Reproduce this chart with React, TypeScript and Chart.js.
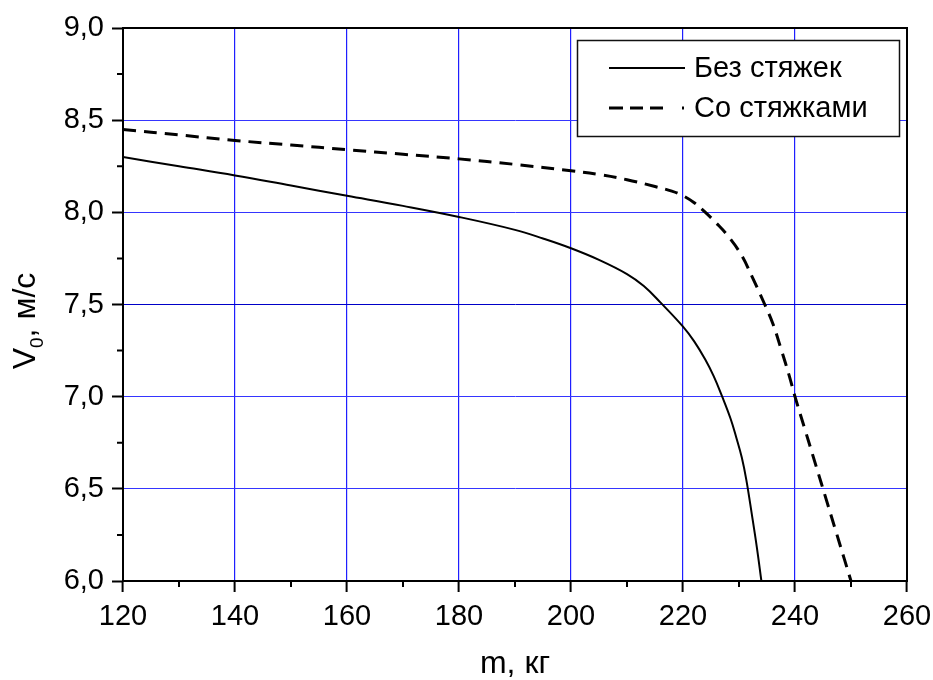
import { useEffect, useRef } from "react";
import { Chart, registerables } from "chart.js";

Chart.register(...registerables);

const massSolid = [120, 130, 140, 150, 160, 170, 180, 190, 195, 200, 205, 210, 213, 216, 220, 222, 224, 225.5, 227, 228.5, 229.5, 230.5, 231.3, 232.3, 233.2, 234];
const speedSolid = [8.3, 8.25, 8.2, 8.145, 8.09, 8.035, 7.975, 7.905, 7.858, 7.805, 7.742, 7.665, 7.6, 7.51, 7.38, 7.3, 7.2, 7.11, 7.0, 6.88, 6.78, 6.67, 6.55, 6.36, 6.18, 6.0];

const massDashed = [120, 130, 140, 150, 160, 170, 180, 190, 200, 205, 210, 215, 218, 220, 222, 224, 226, 228, 230.4, 232.5, 234.6, 236, 237.5, 239, 240, 241.7, 243.8, 245.6, 247.4, 248.8, 250];
const speedDashed = [8.45, 8.42, 8.39, 8.365, 8.34, 8.315, 8.29, 8.26, 8.225, 8.205, 8.177, 8.14, 8.115, 8.09, 8.052, 8.0, 7.94, 7.873, 7.77, 7.64, 7.5, 7.4, 7.26, 7.11, 7.0, 6.83, 6.62, 6.44, 6.26, 6.12, 6.0];

const seriesLabels = ["Без стяжек", "Со стяжками"];
const xTitle = "m, кг";
const yTitleMain = "V";
const yTitleSub = "0";
const yTitleRest = ", м/с";

const xMinorTicks = [130, 150, 170, 190, 210, 230, 250];
const yMinorTicks = [6.25, 6.75, 7.25, 7.75, 8.25, 8.75];

const FONT = "'Liberation Sans', Arial, sans-serif";

const decorPlugin = {
  id: "decor",
  afterDraw(chart: any) {
    const { ctx, chartArea, scales } = chart;
    const { left, right, top, bottom } = chartArea;
    ctx.save();
    // frame
    ctx.strokeStyle = "#000";
    ctx.lineWidth = 2;
    ctx.setLineDash([]);
    ctx.strokeRect(left, top, right - left, bottom - top);
    // minor ticks
    ctx.beginPath();
    for (const v of xMinorTicks) {
      const px = scales.x.getPixelForValue(v);
      ctx.moveTo(px, bottom);
      ctx.lineTo(px, bottom + 6);
    }
    for (const v of yMinorTicks) {
      const py = scales.y.getPixelForValue(v);
      ctx.moveTo(left, py);
      ctx.lineTo(left - 6, py);
    }
    ctx.stroke();

    // legend
    const bx = 577.5, by = 40.5, bw = 322, bh = 96;
    ctx.fillStyle = "#fff";
    ctx.fillRect(bx, by, bw, bh);
    ctx.lineWidth = 1.5;
    ctx.strokeStyle = "#111";
    ctx.strokeRect(bx, by, bw, bh);
    const rows = [68, 108];
    const sampleDash = [[], [14, 7, 13, 7, 13, 19, 2, 60]];
    chart.data.datasets.forEach((ds: any, i: number) => {
      const y = rows[i];
      ctx.beginPath();
      ctx.lineWidth = ds.borderWidth;
      ctx.strokeStyle = ds.borderColor;
      ctx.setLineDash(sampleDash[i]);
      ctx.moveTo(609, y);
      ctx.lineTo(685, y);
      ctx.stroke();
      ctx.setLineDash([]);
      ctx.fillStyle = "#000";
      ctx.font = `29px ${FONT}`;
      ctx.textAlign = "left";
      ctx.textBaseline = "middle";
      ctx.fillText(ds.label, 694, y + 1);
    });

    // y axis title with subscript
    ctx.translate(35, 321);
    ctx.rotate(-Math.PI / 2);
    const mainFont = `32px ${FONT}`;
    const subFont = `19px ${FONT}`;
    ctx.font = mainFont;
    const w1 = ctx.measureText(yTitleMain).width;
    const w3 = ctx.measureText(yTitleRest).width;
    ctx.font = subFont;
    const w2 = ctx.measureText(yTitleSub).width;
    const total = w1 + w2 + w3;
    let x = -total / 2;
    ctx.fillStyle = "#000";
    ctx.textAlign = "left";
    ctx.textBaseline = "alphabetic";
    ctx.font = mainFont;
    ctx.fillText(yTitleMain, x, 0);
    x += w1;
    ctx.font = subFont;
    ctx.fillText(yTitleSub, x, 8);
    x += w2;
    ctx.font = mainFont;
    ctx.fillText(yTitleRest, x, 0);
    ctx.restore();
  },
};

export default function App() {
  const ref = useRef<HTMLCanvasElement | null>(null);

  useEffect(() => {
    if (!ref.current) return;
    const gridColor = (c: any) => (c.tick && c.tick.value === 7.5 ? "#0000c8" : "#3535ff");
    const chart = new Chart(ref.current, {
      type: "line",
      data: {
        datasets: [
          {
            label: seriesLabels[0],
            data: massSolid.map((m, i) => ({ x: m, y: speedSolid[i] })),
            borderColor: "#000",
            borderWidth: 2,
            pointRadius: 0,
            tension: 0.4,
            fill: false,
          },
          {
            label: seriesLabels[1],
            data: massDashed.map((m, i) => ({ x: m, y: speedDashed[i] })),
            borderColor: "#000",
            borderWidth: 3,
            borderDash: [13, 8],
            pointRadius: 0,
            tension: 0.4,
            fill: false,
          },
        ],
      },
      options: {
        animation: false,
        responsive: false,
        maintainAspectRatio: false,
        layout: { padding: { top: 28, right: 26, left: 0, bottom: 0 } },
        plugins: { legend: { display: false }, tooltip: { enabled: false } },
        scales: {
          x: {
            type: "linear",
            min: 120,
            max: 260,
            ticks: {
              stepSize: 20,
              color: "#000",
              font: { family: FONT, size: 29 },
              padding: 8,
              maxRotation: 0,
              autoSkip: false,
            },
            grid: { color: "#1f1fff", lineWidth: 1.2, tickColor: "#000", tickLength: 11, tickWidth: 2 },
            border: { display: true, color: "#000", width: 2 },
            title: {
              display: true,
              text: xTitle,
              color: "#000",
              font: { family: FONT, size: 32, lineHeight: 1 },
              padding: { top: 0, bottom: 0 },
            },
            afterFit: (s: any) => {
              s.height = 99;
              s.paddingLeft = 0;
              s.paddingRight = 0;
            },
          },
          y: {
            type: "linear",
            min: 6,
            max: 9,
            ticks: {
              stepSize: 0.5,
              color: "#000",
              font: { family: FONT, size: 29 },
              padding: 8,
              callback: (v: any) => Number(v).toFixed(1).replace(".", ","),
            },
            grid: { color: gridColor, lineWidth: 1, tickColor: "#000", tickLength: 11, tickWidth: 2 },
            border: { display: true, color: "#000", width: 2 },
            afterFit: (s: any) => {
              s.width = 123;
              s.paddingTop = 0;
              s.paddingBottom = 0;
            },
          },
        },
      },
      plugins: [decorPlugin],
    } as any);
    return () => chart.destroy();
  }, []);

  return (
    <div style={{ position: "absolute", left: 0, top: 0, width: 933, height: 680, background: "#fff" }}>
      <canvas ref={ref} width={933} height={680} style={{ display: "block", width: 933, height: 680 }} />
    </div>
  );
}
